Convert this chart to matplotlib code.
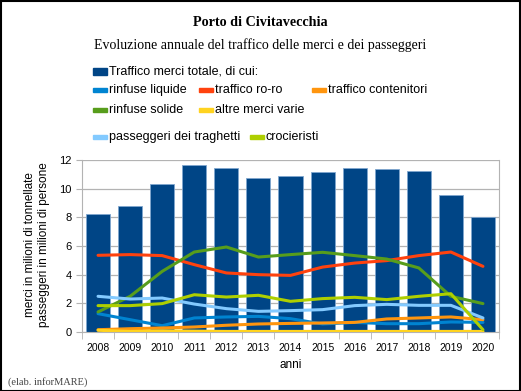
import numpy as np
import matplotlib.pyplot as plt
from matplotlib.patches import Rectangle

years = ["2008", "2009", "2010", "2011", "2012", "2013", "2014",
         "2015", "2016", "2017", "2018", "2019", "2020"]

# milioni di tonnellate
merci_totale = [8.23, 8.79, 10.33, 11.67, 11.47, 10.74, 10.88,
                11.14, 11.44, 11.40, 11.21, 9.58, 8.02]
rinfuse_liquide = [1.28, 0.86, 0.44, 0.98, 1.05, 1.09, 0.93,
                   0.56, 0.67, 0.58, 0.58, 0.70, 0.67]
traffico_roro = [5.35, 5.40, 5.33, 4.70, 4.12, 4.00, 3.95,
                 4.53, 4.81, 4.98, 5.33, 5.58, 4.58]
traffico_contenitori = [0.16, 0.23, 0.28, 0.35, 0.47, 0.56, 0.60,
                        0.63, 0.67, 0.91, 0.98, 1.05, 0.86]
rinfuse_solide = [1.40, 2.49, 4.23, 5.58, 5.93, 5.23, 5.40,
                  5.56, 5.33, 5.09, 4.47, 2.49, 1.98]
altre_merci = [0.12, 0.04, 0.08, 0.06, 0.04, 0.04, 0.04,
               0.04, 0.04, 0.04, 0.04, 0.04, 0.04]
# milioni di persone
pass_traghetti = [2.49, 2.30, 2.37, 1.95, 1.63, 1.44, 1.49,
                  1.56, 1.84, 1.93, 1.86, 1.86, 0.98]
crocieristi = [1.84, 1.84, 1.98, 2.60, 2.44, 2.56, 2.14,
               2.33, 2.42, 2.26, 2.49, 2.67, 0.16]

line_series = [
    ("rinfuse liquide", rinfuse_liquide, "#0084d1"),
    ("traffico ro-ro", traffico_roro, "#ff420e"),
    ("traffico contenitori", traffico_contenitori, "#ff950e"),
    ("rinfuse solide", rinfuse_solide, "#579d1c"),
    ("altre merci varie", altre_merci, "#ffd320"),
    ("passeggeri dei traghetti", pass_traghetti, "#83caff"),
    ("crocieristi", crocieristi, "#aecf00"),
]
bar_color = "#004586"

fig = plt.figure(figsize=(5.21, 3.91), dpi=100)
ax = fig.add_axes([82/521, 1-332/391, 417/521, 172/391])

x = np.arange(len(years))
ax.bar(x, merci_totale, width=0.75, color=bar_color, edgecolor="#7fa6cf",
       linewidth=0.6, zorder=2)
for name, vals, col in line_series:
    ax.plot(x, vals, color=col, lw=2.2, zorder=3, solid_capstyle="round")

ax.set_xlim(-0.5, 12.5)
ax.set_ylim(0, 12)
ax.set_yticks(range(0, 13, 2))
ax.set_xticks(x)
ax.set_xticklabels(years, fontsize=7.5, family="Liberation Sans")
ax.set_xticks(np.arange(-0.5, 13, 1), minor=True)
ax.tick_params(axis="x", which="major", length=0, pad=8)
ax.tick_params(axis="x", which="minor", length=5, color="#b3b3b3")
ax.tick_params(axis="y", length=4, color="#b3b3b3", labelsize=8)
for lab in ax.get_yticklabels():
    lab.set_family("Liberation Sans")
ax.yaxis.grid(True, color="#b3b3b3", lw=0.9, zorder=0)
ax.set_axisbelow(True)
for s in ax.spines.values():
    s.set_color("#b3b3b3")
ax.spines["top"].set_visible(False)

ax.set_xlabel("anni", fontsize=8.5, family="Liberation Sans", labelpad=4)
fig.text(37/521, 1-245/391, "merci in milioni di tonnellate\npasseggeri in milioni di persone",
         rotation=90, ha="center", va="center", fontsize=8.5,
         family="Liberation Sans", linespacing=1.15)

fig.text(0.5, 1-22/391, "Porto di Civitavecchia", ha="center", va="center",
         fontsize=10.2, fontweight="bold", family="Liberation Serif")
fig.text(0.5, 1-45/391, "Evoluzione annuale del traffico delle merci e dei passeggeri",
         ha="center", va="center", fontsize=10, family="Liberation Serif")
fig.text(8/521, 1-382/391, "(elab. inforMARE)", ha="left", va="center",
         fontsize=7.5, family="Liberation Serif", color="#444444")

# legend, laid out by hand
legend_items = [("Traffico merci totale, di cui:", bar_color, 93, 71, 7)]
legend_pos = [(93, 90), (199, 90), (312, 90), (93, 110), (199, 110), (93, 137), (250, 137)]
for (name, vals, col), (px, py) in zip(line_series, legend_pos):
    legend_items.append((name, col, px, py, 4))
for name, col, px, py, h in legend_items:
    fig.patches.append(Rectangle((px/521, 1-(py+h/2)/391), 14/521, h/391,
                                 transform=fig.transFigure, color=col))
    fig.text((px+16)/521, 1-py/391, name, ha="left", va="center",
             fontsize=9, family="Liberation Sans")

fig.patches.append(Rectangle((0.001, 0.001), 0.998, 0.997, transform=fig.transFigure,
                             fill=False, edgecolor="black", lw=1.5))
fig.savefig("out.png", dpi=100)
